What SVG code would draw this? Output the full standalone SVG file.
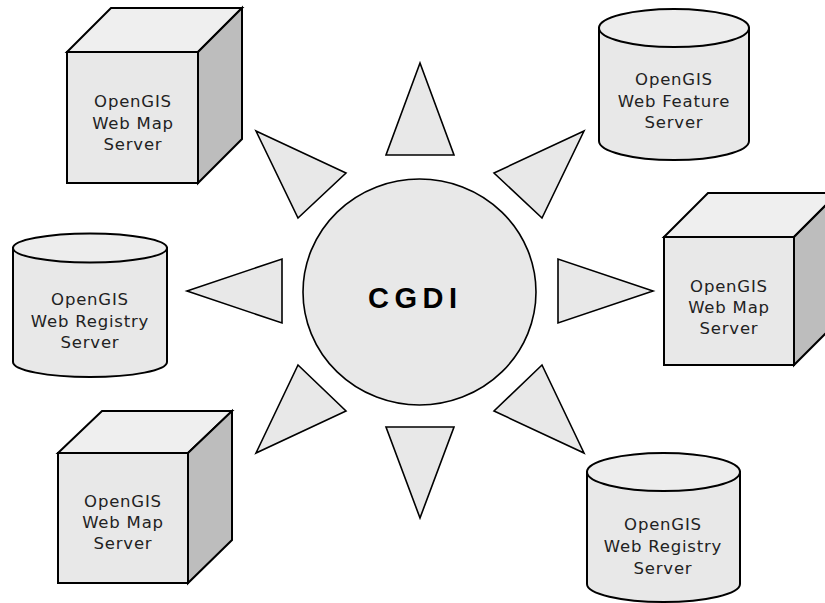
<svg xmlns="http://www.w3.org/2000/svg" width="825" height="603" viewBox="0 0 825 603">
<style>
.front{fill:#e8e8e8;stroke:#000;stroke-width:2;stroke-linejoin:miter}
.top{fill:#efefef;stroke:#000;stroke-width:2}
.side{fill:#bdbdbd;stroke:#000;stroke-width:2}
.cyl{fill:#e8e8e8;stroke:#000;stroke-width:2}
.cyltop{fill:#ededed;stroke:#000;stroke-width:2}
.tri{fill:#e8e8e8;stroke:#000;stroke-width:1.6;stroke-linejoin:miter}
.lbl{font-family:"DejaVu Sans",Verdana,sans-serif;font-size:16.5px;letter-spacing:0.8px;fill:#222;text-anchor:middle}
.hub{fill:#e8e8e8;stroke:#000;stroke-width:1.6}
.hubt{font-family:"Liberation Sans",Arial,sans-serif;font-weight:bold;font-size:29px;letter-spacing:5.5px;fill:#000}
</style>
<rect width="825" height="603" fill="#fff"/>

<g id="connectors">
<polygon class="tri" points="420,63 454,155 386,155"/>
<polygon class="tri" points="256,131 346,173 298,218"/>
<polygon class="tri" points="584,131 494,173 542,218"/>
<polygon class="tri" points="187,291 282,259 282,323"/>
<polygon class="tri" points="653,291 558,259 558,323"/>
<polygon class="tri" points="298,365 346,411 256,453"/>
<polygon class="tri" points="542,365 494,411 584,453"/>
<polygon class="tri" points="386,427 454,427 420,518"/>
</g>

<g id="cgdi">
<ellipse class="hub" cx="419.5" cy="292" rx="116.5" ry="113"/>
<text class="hubt" x="368" y="308">CGDI</text>
</g>

<g id="wms-topleft">
<polygon class="top" points="67,52 111,8 242,8 198,52"/>
<polygon class="side" points="198,52 242,8 242,139 198,183"/>
<rect class="front" x="67" y="52" width="131" height="131"/>
<text class="lbl" x="133" y="107">OpenGIS</text>
<text class="lbl" x="133" y="129">Web Map</text>
<text class="lbl" x="133" y="150">Server</text>
</g>

<g id="wfs-topright">
<path class="cyl" d="M599,28 V141 A75,19 0 0 0 749,141 V28 Z"/>
<ellipse class="cyltop" cx="674" cy="28" rx="75" ry="19"/>
<text class="lbl" x="674" y="85">OpenGIS</text>
<text class="lbl" x="674" y="107">Web Feature</text>
<text class="lbl" x="674" y="128">Server</text>
</g>

<g id="wrs-left">
<path class="cyl" d="M13,248 V362 A77,15 0 0 0 167,362 V248 Z"/>
<ellipse class="cyltop" cx="90" cy="248" rx="77" ry="14.5"/>
<text class="lbl" x="90" y="305">OpenGIS</text>
<text class="lbl" x="90" y="327">Web Registry</text>
<text class="lbl" x="90" y="348">Server</text>
</g>

<g id="wms-right">
<polygon class="top" points="664,237 708,193 838,193 794,237"/>
<polygon class="side" points="794,237 838,193 838,321 794,365"/>
<rect class="front" x="664" y="237" width="130" height="128"/>
<text class="lbl" x="729" y="292">OpenGIS</text>
<text class="lbl" x="729" y="313">Web Map</text>
<text class="lbl" x="729" y="334">Server</text>
</g>

<g id="wms-bottomleft">
<polygon class="top" points="58,453 102,411 232,411 188,453"/>
<polygon class="side" points="188,453 232,411 232,540 188,583"/>
<rect class="front" x="58" y="453" width="130" height="130"/>
<text class="lbl" x="123" y="507">OpenGIS</text>
<text class="lbl" x="123" y="528">Web Map</text>
<text class="lbl" x="123" y="549">Server</text>
</g>

<g id="wrs-bottomright">
<path class="cyl" d="M587,472 V584 A76.5,18 0 0 0 740,584 V472 Z"/>
<ellipse class="cyltop" cx="663.5" cy="472" rx="76.5" ry="19"/>
<text class="lbl" x="663" y="530">OpenGIS</text>
<text class="lbl" x="663" y="552">Web Registry</text>
<text class="lbl" x="663" y="574">Server</text>
</g>
</svg>
